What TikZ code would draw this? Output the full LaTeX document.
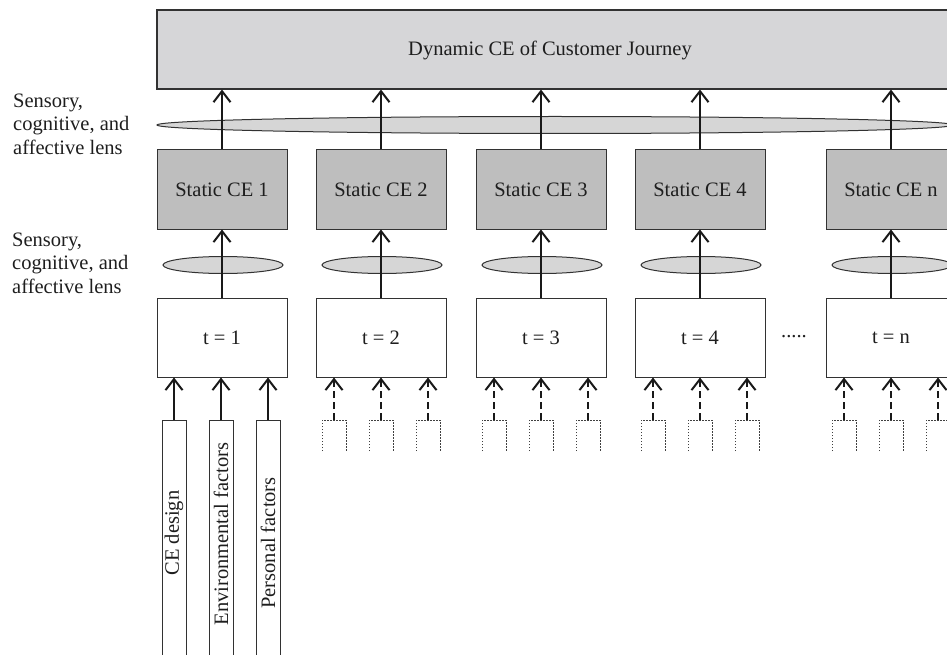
\documentclass[tikz,border=0pt]{standalone}
\usepackage{fontspec}
\setmainfont{Liberation Serif}
\usetikzlibrary{arrows.meta,shapes.geometric}
\definecolor{topfill}{RGB}{214,214,216}
\definecolor{statfill}{RGB}{190,190,190}
\definecolor{lensfill}{RGB}{214,214,214}
\definecolor{linec}{RGB}{50,50,50}
\definecolor{txt}{RGB}{30,30,30}
\begin{document}
\begin{tikzpicture}[x=1pt,y=-1pt,
  font=\fontsize{20.5}{23.5}\selectfont, text=txt,
  topbox/.style={draw=linec, fill=topfill, line width=1.1pt, minimum width=792pt, minimum height=79pt, inner sep=0pt},
  statbox/.style={draw=linec, fill=statfill, line width=1pt, minimum width=130pt, minimum height=79pt, inner sep=0pt},
  tbox/.style={draw=linec, fill=white, line width=1pt, minimum width=130pt, minimum height=79pt, inner sep=0pt},
  lens/.style={ellipse, draw=linec, fill=lensfill, line width=1pt, minimum width=120pt, minimum height=17pt, inner sep=0pt},
  factor/.style={draw=linec, fill=white, line width=1pt, minimum width=24pt, minimum height=240pt, inner sep=0pt},
  arr/.style={draw=black!90, line width=2pt, -{Straight Barb[length=11pt,width=17pt]}},
  darr/.style={arr, dash pattern=on 7pt off 4pt},
  dotbox/.style={draw=black!75, line width=0.9pt, dash pattern=on 1.5pt off 1.5pt},
  lbl/.style={anchor=west, align=left, inner sep=0pt}
]
\useasboundingbox (0,0) rectangle (947,655);
\clip (0,0) rectangle (947,655);

% top box
\node[topbox] (top) at (553,49.5) {};
\node (toptext) at (550,50) {Dynamic CE of Customer Journey};

% big lens
\node[lens, minimum width=796pt, minimum height=17pt] (L) at (555,125) {};

% left labels
\node[lbl] (lab1) at (13,124) {Sensory,\\cognitive, and\\affective lens};
\node[lbl] (lab2) at (12,263) {Sensory,\\cognitive, and\\affective lens};

% columns
\foreach \i/\x/\lab in {1/222/1,2/381/2,3/541/3,4/700/4,5/891/n}{
  \node[statbox] (s\i) at (\x,189.5) {Static CE \lab};
  \node[lens] (l\i) at (\x+1,265) {};
  \node[tbox] (t\i) at (\x,337.5) {t = \lab};
  \draw[arr] (s\i.north) -- (s\i.north |- top.south);
  \draw[arr] (t\i.north) -- (s\i.south);
}

% dotted inputs for columns 2..n
\foreach \i/\x in {2/381,3/541,4/700,5/891}{
  \foreach \j/\d in {a/-47,b/0,c/47}{
    \pgfmathsetmacro\xx{\x+\d}
    \pgfmathsetmacro\xl{\xx-12}
    \pgfmathsetmacro\xr{\xx+12}
    \coordinate (in\i\j) at (\xx,420);
    \draw[dotbox] (\xl,451) -- (\xl,420) -- (\xr,420) -- (\xr,451);
    \draw[darr] (in\i\j) -- (in\i\j |- t\i.south);
  }
}

% factors for t = 1
\node[factor] (f1) at (174,540) {};
\node[factor] (f2) at (221,540) {};
\node[factor] (f3) at (268,540) {};
\node[rotate=90] (ft1) at (174,533) {CE design};
\node[rotate=90] (ft2) at (221,534) {Environmental factors};
\node[rotate=90] (ft3) at (268,543) {Personal factors};
\foreach \k in {1,2,3}{
  \draw[arr] (f\k.north) -- (f\k.north |- t1.south);
}

% dots
\node[anchor=base] (dots) at (794,337) {.....};
\end{tikzpicture}
\end{document}
